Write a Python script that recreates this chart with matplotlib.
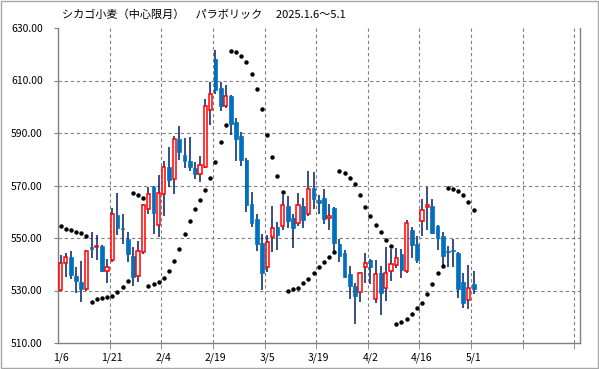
import numpy as np
import matplotlib
matplotlib.use("Agg")
import matplotlib.pyplot as plt
from matplotlib.patches import Rectangle

plt.rcParams['font.family'] = ['Noto Sans CJK JP', 'DejaVu Sans']

# daily OHLC, 2025/1/6 .. 5/1 (81 trading days)
opens = [530.1, 540.3, 542.7, 535.5, 533.2, 530.4, 546.4, 546.6, 547.1, 537.6,
         541.8, 558.7, 554.0, 549.8, 543.1, 535.7, 544.5, 560.9, 569.4, 555.1,
         566.6, 577.2, 572.3, 587.9, 581.6, 579.3, 576.6, 574.2, 577.2, 598.6,
         618.1, 607.3, 600.1, 604.0, 594.0, 589.0, 579.6, 563.1, 557.4, 548.0,
         539.0, 550.2, 554.0, 554.5, 562.1, 557.5, 555.9, 562.1, 559.0, 568.9,
         564.4, 565.4, 557.7, 561.4, 547.9, 544.2, 536.3, 531.6, 529.6, 539.1,
         541.8, 526.6, 536.8, 530.8, 537.6, 539.9, 543.8, 537.6, 553.0, 547.6,
         556.6, 561.9, 562.1, 554.5, 550.6, 545.0, 545.5, 544.2, 533.2, 526.2,
         532.3]
highs = [543.7, 544.1, 545.0, 539.0, 541.2, 545.6, 552.1, 551.3, 547.5, 541.9,
         561.6, 567.0, 559.1, 552.2, 546.6, 548.7, 562.8, 569.5, 570.0, 573.9,
         579.3, 584.5, 588.9, 592.5, 588.2, 588.4, 579.0, 581.2, 602.8, 609.4,
         621.6, 609.5, 608.1, 604.3, 595.9, 590.4, 580.5, 567.6, 559.3, 551.7,
         551.3, 562.3, 556.0, 566.3, 566.1, 559.3, 567.1, 565.3, 575.5, 575.0,
         566.3, 568.5, 563.1, 561.8, 549.8, 545.5, 539.4, 533.0, 537.0, 544.1,
         542.0, 541.8, 539.4, 546.5, 545.7, 546.1, 545.9, 556.7, 554.2, 550.7,
         564.7, 569.4, 564.7, 554.8, 552.3, 546.8, 549.8, 544.5, 536.7, 539.9,
         537.5]
lows = [530.0, 535.2, 534.3, 529.2, 525.7, 529.9, 542.2, 541.6, 536.9, 532.9,
        541.0, 551.2, 547.8, 541.0, 531.8, 533.4, 544.0, 559.0, 551.5, 550.4,
        558.2, 569.5, 566.6, 579.9, 576.5, 575.5, 572.5, 571.4, 576.5, 593.1,
        605.0, 598.4, 599.7, 589.4, 579.4, 577.5, 560.0, 554.3, 545.1, 530.1,
        536.9, 544.7, 545.4, 553.1, 553.9, 546.2, 554.6, 553.9, 558.5, 561.2,
        559.0, 555.5, 553.0, 544.3, 540.9, 534.8, 526.6, 517.4, 525.7, 533.0,
        532.4, 525.3, 520.6, 525.9, 533.8, 538.4, 534.6, 536.5, 542.4, 540.3,
        550.6, 553.2, 551.5, 545.6, 539.5, 539.0, 539.0, 527.3, 523.5, 523.1,
        528.5]
closes = [540.3, 542.6, 536.0, 533.7, 530.6, 544.9, 545.9, 547.1, 537.5, 538.8,
          559.0, 554.0, 553.4, 544.0, 535.2, 545.2, 562.4, 566.6, 559.6, 567.0,
          577.2, 572.2, 587.9, 582.8, 579.4, 577.1, 574.2, 578.0, 600.1, 605.0,
          606.3, 600.3, 604.2, 593.5, 587.8, 579.9, 562.4, 555.8, 547.8, 536.7,
          548.3, 554.0, 551.3, 562.4, 556.5, 553.9, 562.4, 557.0, 568.5, 564.9,
          563.5, 557.2, 558.2, 548.2, 543.2, 535.2, 531.8, 528.0, 536.8, 540.3,
          539.1, 536.2, 528.9, 536.5, 540.0, 542.2, 538.0, 555.9, 547.4, 541.8,
          560.8, 562.4, 552.0, 549.9, 543.1, 544.5, 545.0, 530.6, 525.3, 530.9,
          530.6]
# parabolic SAR
sar = [554.4, 553.5, 553.1, 552.3, 552.0, 550.8, 525.7, 526.6, 527.1, 527.6,
       528.0, 529.3, 531.4, 533.7, 567.0, 566.2, 565.4, 531.8, 532.6, 533.4,
       534.8, 537.6, 541.4, 545.9, 551.7, 556.4, 560.9, 564.5, 568.1, 573.0,
       578.8, 586.4, 592.9, 621.4, 620.7, 619.3, 616.9, 612.4, 606.6, 599.0,
       589.4, 581.0, 573.8, 567.7, 530.0, 530.6, 531.1, 532.7, 534.2, 536.5,
       538.8, 540.9, 542.9, 544.8, 575.5, 574.7, 573.0, 570.4, 566.2, 561.9,
       558.4, 555.1, 552.1, 549.4, 546.8, 517.4, 517.9, 519.2, 521.2, 523.5,
       525.4, 528.5, 532.5, 536.5, 539.5, 569.2, 568.7, 567.9, 566.5, 563.8,
       560.5]
date_labels = ['1/6', '1/21', '2/4', '2/19', '3/5', '3/19', '4/2', '4/16', '5/1']
yticks = [510, 530, 550, 570, 590, 610, 630]

o = np.array(opens)
h = np.array(highs)
l = np.array(lows)
c = np.array(closes)
x = np.arange(len(o))
up = c >= o

fig = plt.figure(figsize=(5.99, 3.69), dpi=100)
ax = fig.add_axes([58/599, 1-343/369, (579.5-58)/599, (343-28)/369])

grey = '#808080'
# grid
for v in yticks[1:-1]:
    ax.axhline(v, color=grey, lw=0.8, dashes=(3, 2.5), zorder=0)
for k in range(1, 11):
    ax.axvline(k*10 - 0.5, color=grey, lw=0.8, dashes=(3, 2.5), zorder=0)

# wicks
ax.vlines(x, l, h, color='#002060', lw=1.1, zorder=2)
# bodies
bot = np.minimum(o, c)
ht = np.maximum(np.abs(c - o), 0.4)
ax.bar(x[~up], ht[~up], bottom=bot[~up], width=0.72, color='#0070C0',
       edgecolor='#0070C0', lw=0.5, zorder=3)
ax.bar(x[up], ht[up], bottom=bot[up], width=0.62, facecolor='white',
       edgecolor='#FF0000', lw=1.1, zorder=3)

# SAR
ax.plot(x, sar, ls='none', marker='o', ms=2.2, color='black', zorder=4)

ax.set_xlim(-0.5, 100.5)
ax.set_ylim(510, 630)
ax.set_yticks(yticks)
ax.set_yticklabels([f'{v:.2f}' for v in yticks])
ax.set_xticks(np.arange(0, 81, 10))
ax.set_xticklabels(date_labels)
ax.set_xticks(np.arange(9.5, 100, 10), minor=True)
ax.tick_params(axis='x', which='major', length=0, pad=7, labelsize=7.5)
ax.tick_params(axis='x', which='minor', length=4, color=grey, direction='out')
ax.tick_params(axis='y', length=3, color=grey, pad=8, labelsize=7.5)

for s in ['left', 'bottom', 'right']:
    ax.spines[s].set_color(grey)
    ax.spines[s].set_linewidth(1)
ax.spines['top'].set_visible(False)

fig.text(62/599, 1-15/369, 'シカゴ小麦（中心限月）　パラボリック　 2025.1.6～5.1',
         fontsize=8, va='center', ha='left')

fig.patches.append(Rectangle((0.001, 0.002), 0.997, 0.996, transform=fig.transFigure,
                             fill=False, edgecolor='#a6a6a6', lw=1))

fig.savefig('out.png', dpi=100)
